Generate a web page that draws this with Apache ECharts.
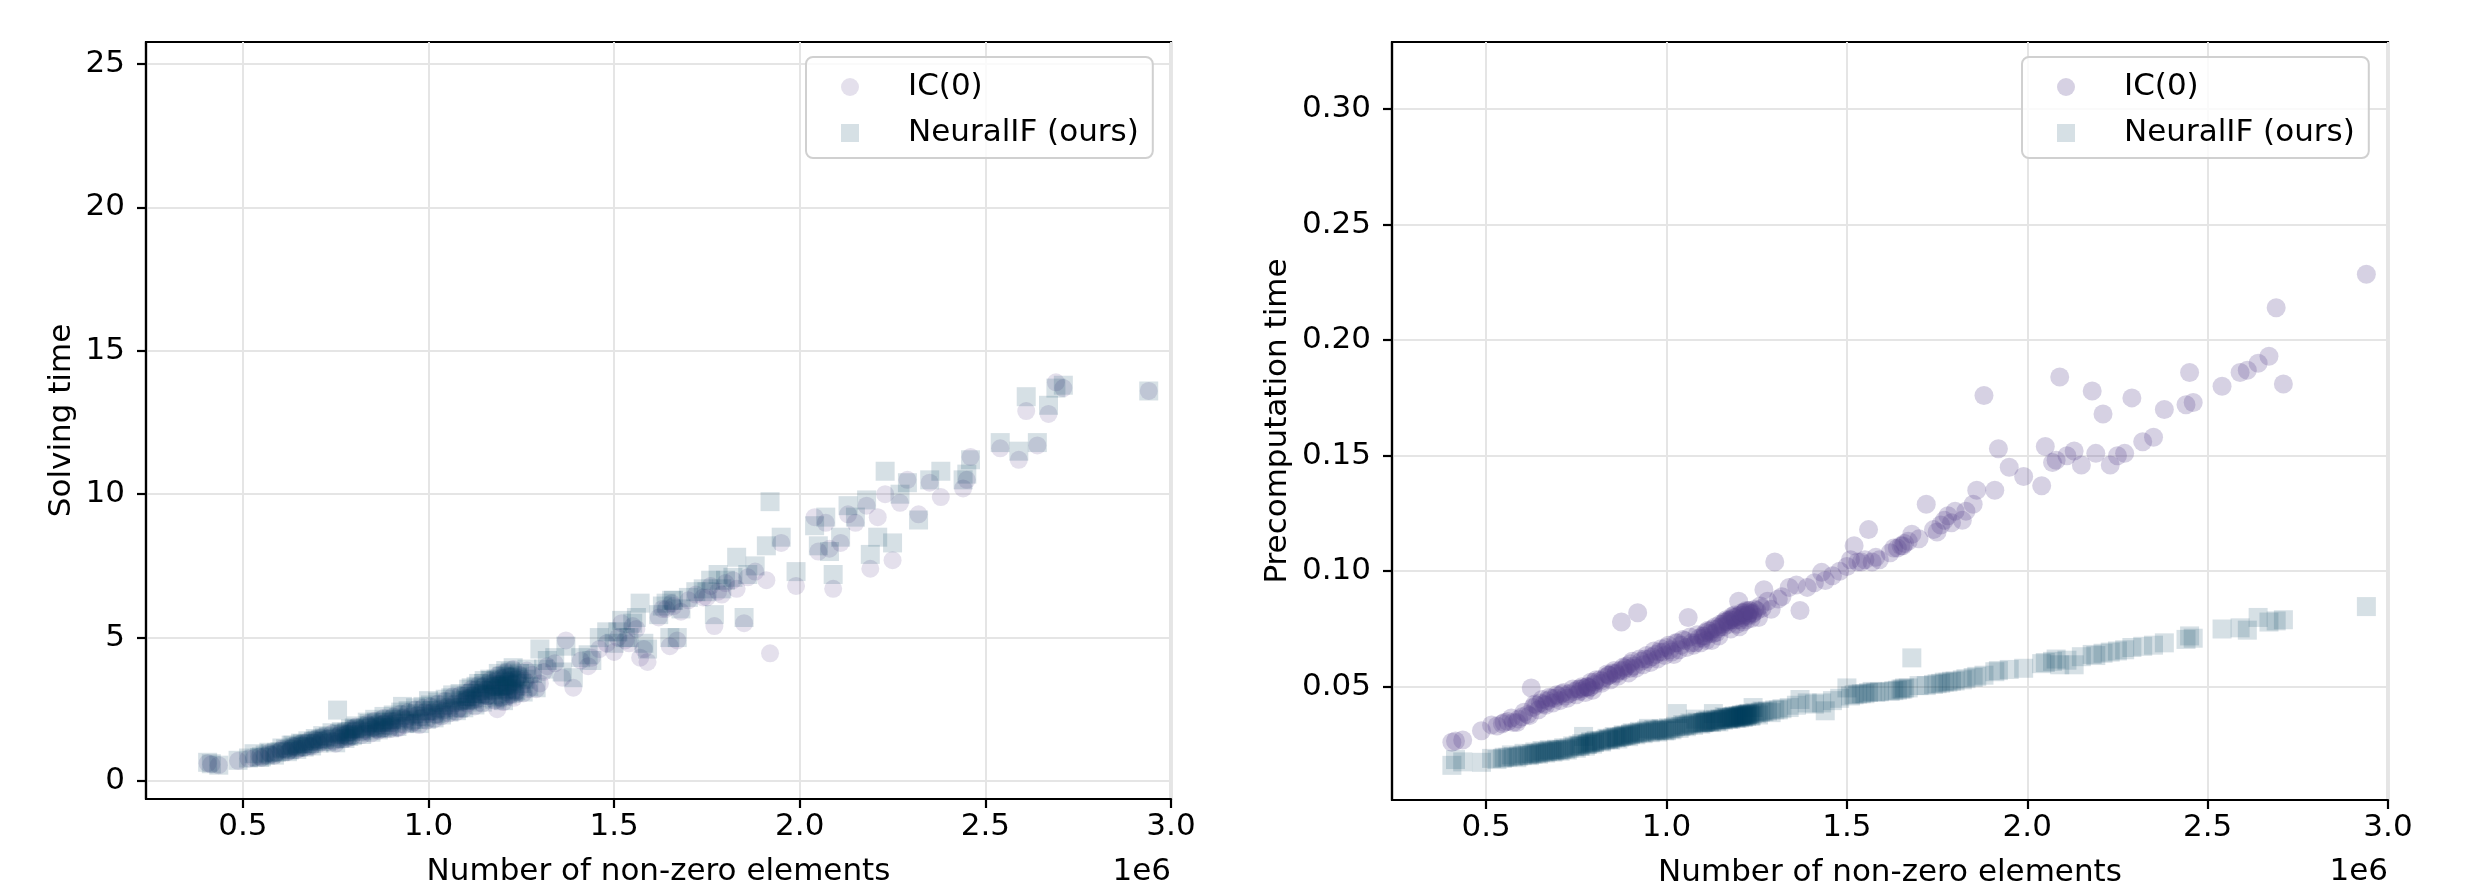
<!DOCTYPE html>
<html>
<head>
<meta charset="utf-8">
<title>Solving and precomputation time</title>
<script src="https://cdn.jsdelivr.net/npm/echarts@6/dist/echarts.min.js"></script>
<style>
  html, body { margin: 0; padding: 0; background: #fff; }
  #chart { width: 2480px; height: 891px; }
</style>
</head>
<body>
<div id="chart"></div>
<script>
// number of non-zero elements, in units of 1e6 (shared by every series)
const nnz = [
  0.405, 0.415, 0.435, 0.487,
  0.515, 0.53, 0.545, 0.56, 0.575, 0.59, 0.60,
  0.615, 0.625, 0.63, 0.64, 0.65, 0.66, 0.67, 0.68, 0.69, 0.70,
  0.71, 0.72, 0.73, 0.745, 0.755, 0.76, 0.77, 0.78, 0.785, 0.79, 0.80,
  0.815, 0.83, 0.84, 0.85, 0.86, 0.87, 0.875, 0.885, 0.89, 0.90,
  0.91, 0.92, 0.93, 0.94, 0.95, 0.96, 0.97, 0.98, 0.99, 1.00,
  1.01, 1.02, 1.03, 1.04, 1.05, 1.06, 1.07, 1.08, 1.09, 1.10,
  1.105, 1.11, 1.12, 1.13, 1.14, 1.15, 1.155, 1.16, 1.17, 1.175, 1.18, 1.185, 1.19, 1.20,
  1.205, 1.21, 1.215, 1.22, 1.225, 1.23, 1.24, 1.25, 1.26, 1.27, 1.28, 1.30,
  1.31, 1.32, 1.34, 1.36, 1.37, 1.39,
  1.41, 1.43, 1.44, 1.46, 1.48,
  1.50, 1.51, 1.52, 1.54, 1.56, 1.57, 1.59,
  1.62, 1.64, 1.65, 1.66, 1.68, 1.70,
  1.72, 1.74, 1.76, 1.77, 1.78, 1.80,
  1.82, 1.83, 1.85, 1.86, 1.88,
  1.91, 1.92, 1.95, 1.99,
  2.04, 2.05, 2.07, 2.08, 2.09,
  2.11, 2.13, 2.15, 2.18, 2.19,
  2.21, 2.23, 2.25, 2.27, 2.29,
  2.32, 2.35, 2.38,
  2.44, 2.45, 2.46,
  2.54, 2.59, 2.61, 2.64, 2.67, 2.69,
  2.71, 2.94,
  // denser part of the cloud
  0.55, 0.57, 0.585, 0.605, 0.62, 0.635, 0.645, 0.655, 0.665, 0.675, 0.685, 0.695,
  0.705, 0.715, 0.725, 0.74, 0.75, 0.765, 0.775, 0.79, 0.795,
  0.805, 0.82, 0.835, 0.845, 0.855, 0.865, 0.88, 0.895,
  0.905, 0.915, 0.925, 0.935, 0.945, 0.955, 0.965, 0.975, 0.985, 0.995,
  1.005, 1.015, 1.025, 1.035, 1.045, 1.055, 1.065, 1.075, 1.085, 1.095,
  1.115, 1.125, 1.135, 1.145, 1.165, 1.178, 1.188, 1.195, 1.198, 1.202,
  1.208, 1.212, 1.218, 1.222, 1.228, 1.235, 1.245, 1.255, 1.265, 1.29,
  1.53, 1.55, 1.58, 1.63, 1.655, 1.67, 1.75, 1.79,
  1.102, 1.108, 1.118, 1.128, 1.138, 1.148, 1.158, 1.168, 1.172, 1.182, 1.192, 1.206,
  1.214, 1.224, 1.232, 1.238, 0.76, 0.78, 0.80, 0.82, 0.84, 0.86, 0.88, 0.90
];

// solving time
const solveIC = [
  0.62, 0.58, 0.55, 0.70,
  0.78, 0.80, 0.85, 0.88, 0.92, 0.98, 1.05,
  1.10, 1.05, 1.15, 1.20, 1.12, 1.25, 1.30, 1.22, 1.35, 1.40,
  1.42, 1.45, 1.50, 1.38, 1.55, 1.45, 1.60, 1.65, 1.50, 1.70, 1.75,
  1.80, 1.75, 1.90, 1.85, 2.00, 1.95, 1.80, 2.05, 1.90, 2.00,
  2.10, 1.85, 2.20, 2.15, 2.25, 2.05, 2.30, 2.20, 2.40, 2.35,
  2.40, 2.30, 2.50, 2.45, 2.60, 2.55, 2.70, 2.50, 2.75, 2.80,
  2.70, 2.90, 3.00, 2.85, 3.10, 3.00, 3.20, 2.95, 3.30, 3.10, 3.25, 2.50, 3.40, 3.20,
  3.30, 3.10, 3.50, 3.20, 3.40, 2.90, 3.60, 3.30, 3.50, 3.20, 3.70, 3.40,
  3.80, 4.00, 4.10, 3.60, 4.90, 3.25,
  4.20, 4.00, 4.30, 4.60, 4.80,
  4.50, 5.00, 5.50, 4.80, 5.30, 4.30, 4.15,
  5.70, 6.00, 4.70, 6.10, 5.90, 6.30,
  6.50, 6.40, 6.80, 5.40, 6.60, 6.90,
  7.00, 6.70, 5.50, 7.10, 7.30,
  7.00, 4.45, 8.30, 6.80,
  9.20, 8.00, 9.00, 8.10, 6.70,
  8.30, 9.30, 9.00, 9.60, 7.40,
  9.20, 10.0, 7.70, 9.70, 10.5,
  9.30, 10.4, 9.90,
  10.2, 10.5, 11.3,
  11.6, 11.2, 12.9, 11.7, 12.8, 13.9,
  13.7, 13.6,
  0.80, 0.98, 0.88, 1.12, 1.00, 1.22, 1.08, 1.30, 1.15, 1.38, 1.20, 1.45,
  1.30, 1.55, 1.35, 1.65, 1.30, 1.70, 1.45, 1.80, 1.55,
  1.90, 1.60, 2.00, 1.65, 2.10, 1.75, 2.20, 1.80,
  2.25, 1.85, 2.35, 1.95, 2.40, 2.00, 2.50, 1.95, 2.55, 2.10,
  2.60, 2.15, 2.70, 2.25, 2.80, 2.35, 2.95, 2.40, 3.00, 2.50,
  3.20, 2.60, 3.35, 2.70, 3.50, 2.80, 3.70, 2.90, 3.60, 2.75,
  3.80, 2.95, 3.65, 3.00, 3.90, 3.10, 3.70, 3.05, 3.85, 3.20,
  4.90, 5.40, 4.60, 6.00, 6.20, 4.90, 6.40, 6.50,
  2.90, 3.10, 2.80, 3.20, 3.00, 3.30, 2.95, 3.40, 3.15, 3.50, 3.25, 3.60,
  3.30, 3.45, 3.15, 3.55, 1.60, 1.55, 1.80, 1.70, 1.95, 1.80, 2.00, 2.10
];
const solveNIF = [
  0.65, 0.60, 0.55, 0.72,
  0.80, 0.95, 0.82, 0.90, 0.95, 1.00, 1.02,
  1.12, 1.08, 1.25, 1.18, 1.20, 1.30, 1.28, 1.30, 1.38, 1.42,
  1.45, 1.50, 1.55, 1.45, 2.47, 1.50, 1.62, 1.70, 1.55, 1.72, 1.80,
  1.82, 1.85, 1.92, 1.90, 2.05, 1.95, 1.85, 2.10, 1.95, 2.05,
  2.15, 2.20, 2.60, 2.10, 2.30, 2.15, 2.35, 2.25, 2.45, 2.80,
  2.45, 2.35, 2.55, 2.50, 2.65, 2.90, 2.75, 2.55, 2.80, 2.85,
  2.80, 2.95, 3.05, 2.90, 3.15, 3.50, 3.25, 3.00, 3.35, 3.15, 3.30, 2.90, 3.45, 3.30,
  3.35, 3.20, 3.60, 3.80, 3.45, 3.10, 3.65, 3.40, 3.55, 3.30, 3.75, 4.60,
  3.90, 4.20, 4.30, 3.80, 4.70, 3.60,
  4.30, 4.40, 4.20, 5.00, 5.20,
  4.80, 5.20, 5.60, 5.00, 5.70, 6.20, 4.60,
  5.80, 6.20, 5.00, 6.30, 6.00, 6.40,
  6.60, 6.70, 7.00, 5.80, 7.20, 7.00,
  7.10, 7.80, 5.70, 7.20, 7.50,
  8.20, 9.74, 8.50, 7.30,
  8.90, 8.20, 9.20, 8.00, 7.20,
  8.50, 9.60, 9.20, 9.80, 7.90,
  8.50, 10.8, 8.30, 10.0, 10.4,
  9.10, 10.5, 10.8,
  10.5, 10.7, 11.2,
  11.8, 11.5, 13.4, 11.8, 13.1, 13.7,
  13.8, 13.6,
  0.84, 1.00, 0.90, 1.15, 1.02, 1.25, 1.10, 1.32, 1.18, 1.40, 1.22, 1.48,
  1.32, 1.58, 1.38, 1.68, 1.33, 1.72, 1.48, 1.82, 1.58,
  1.92, 1.62, 2.05, 1.70, 2.15, 1.78, 2.25, 1.85,
  2.30, 1.90, 2.40, 2.00, 2.45, 2.05, 2.55, 2.00, 2.60, 2.15,
  2.65, 2.20, 2.75, 2.30, 2.85, 2.40, 3.00, 2.45, 3.05, 2.55,
  3.25, 2.65, 3.40, 2.75, 3.55, 2.85, 3.75, 2.95, 3.65, 2.80,
  3.85, 3.00, 3.70, 3.05, 3.95, 3.15, 3.75, 3.10, 3.90, 3.25,
  5.00, 5.50, 4.80, 6.10, 6.30, 5.00, 6.60, 6.70,
  2.95, 3.20, 2.85, 3.30, 3.05, 3.40, 3.00, 3.50, 3.20, 3.55, 3.30, 3.65,
  3.35, 3.50, 3.20, 3.60, 1.65, 1.60, 1.85, 1.75, 2.00, 1.85, 2.05, 2.15
];

// precomputation time
const precIC = [
  0.026, 0.0265, 0.027, 0.031,
  0.0335, 0.033, 0.034, 0.035, 0.0345, 0.036, 0.037,
  0.038, 0.0495, 0.041, 0.042, 0.043, 0.0425, 0.044, 0.045, 0.045, 0.046,
  0.047, 0.046, 0.047, 0.048, 0.049, 0.048, 0.0495, 0.050, 0.0495, 0.050, 0.051,
  0.053, 0.054, 0.055, 0.056, 0.056, 0.057, 0.078, 0.058, 0.059, 0.058,
  0.059, 0.082, 0.061, 0.062, 0.062, 0.063, 0.064, 0.065, 0.065, 0.067,
  0.066, 0.064, 0.069, 0.068, 0.070, 0.080, 0.069, 0.069, 0.071, 0.072,
  0.072, 0.070, 0.073, 0.073, 0.075, 0.076, 0.077, 0.078, 0.078, 0.079, 0.079, 0.080, 0.080, 0.087,
  0.079, 0.080, 0.081, 0.083, 0.081, 0.082, 0.082, 0.083, 0.085, 0.092, 0.087, 0.104,
  0.088, 0.089, 0.093, 0.094, 0.083, 0.093,
  0.095, 0.0995, 0.096, 0.098, 0.100,
  0.102, 0.105, 0.111, 0.104, 0.118, 0.104, 0.105,
  0.108, 0.110, 0.111, 0.112, 0.116, 0.114,
  0.129, 0.118, 0.120, 0.122, 0.124, 0.126,
  0.122, 0.126, 0.129, 0.135, 0.176,
  0.135, 0.153, 0.145, 0.141,
  0.137, 0.154, 0.147, 0.148, 0.184,
  0.150, 0.152, 0.146, 0.178, 0.151,
  0.168, 0.146, 0.150, 0.151, 0.175,
  0.156, 0.158, 0.170,
  0.172, 0.186, 0.173,
  0.180, 0.186, 0.187, 0.190, 0.193, 0.214,
  0.181, 0.2285,
  0.0345, 0.0365, 0.0345, 0.039, 0.0375, 0.0425, 0.040, 0.0445, 0.042, 0.0455, 0.043, 0.0465,
  0.044, 0.0475, 0.045, 0.049, 0.0465, 0.050, 0.0475, 0.052, 0.0485,
  0.053, 0.0515, 0.0555, 0.053, 0.057, 0.0545, 0.0585, 0.056,
  0.061, 0.058, 0.062, 0.0595, 0.0635, 0.0605, 0.0655, 0.062, 0.0665, 0.0635,
  0.068, 0.065, 0.069, 0.066, 0.0705, 0.067, 0.0715, 0.068, 0.0725, 0.069,
  0.0745, 0.070, 0.076, 0.072, 0.079, 0.075, 0.081, 0.077, 0.0805, 0.076,
  0.082, 0.078, 0.0825, 0.079, 0.083, 0.0795, 0.0835, 0.080, 0.084, 0.0835,
  0.104, 0.105, 0.106, 0.110, 0.111, 0.113, 0.117, 0.121,
  0.071, 0.0735, 0.074, 0.075, 0.0735, 0.077, 0.076, 0.0785, 0.077, 0.0805, 0.079, 0.081,
  0.082, 0.0805, 0.083, 0.0815, 0.049, 0.050, 0.052, 0.0525, 0.055, 0.0555, 0.057, 0.060
];
const precNIF = [
  0.016, 0.0185, 0.0175, 0.0173,
  0.019, 0.0185, 0.019, 0.0195, 0.0198, 0.020, 0.0202,
  0.0205, 0.021, 0.0208, 0.0212, 0.0215, 0.0218, 0.022, 0.0222, 0.0223, 0.0226,
  0.0228, 0.023, 0.0235, 0.024, 0.0248, 0.0245, 0.0285, 0.025, 0.0255, 0.0258, 0.026,
  0.0265, 0.027, 0.0272, 0.0278, 0.028, 0.0282, 0.0285, 0.0288, 0.029, 0.0293,
  0.0297, 0.030, 0.0302, 0.0305, 0.032, 0.0308, 0.031, 0.0312, 0.0314, 0.031,
  0.0318, 0.0322, 0.0384, 0.0328, 0.0332, 0.0335, 0.034, 0.036, 0.0342, 0.0345,
  0.0345, 0.0348, 0.035, 0.0384, 0.0355, 0.0358, 0.036, 0.037, 0.0362, 0.0365, 0.0367, 0.037, 0.0368, 0.0372,
  0.0372, 0.0375, 0.0378, 0.0376, 0.038, 0.0382, 0.041, 0.0385, 0.039, 0.0392, 0.0395, 0.040,
  0.040, 0.0405, 0.041, 0.042, 0.0445, 0.043,
  0.0425, 0.043, 0.0396, 0.044, 0.045,
  0.0495, 0.046, 0.0465, 0.047, 0.0475, 0.048, 0.0478,
  0.048, 0.0485, 0.049, 0.0495, 0.0625, 0.0505,
  0.0505, 0.051, 0.0515, 0.052, 0.052, 0.0525,
  0.053, 0.0535, 0.054, 0.0545, 0.055,
  0.0565, 0.057, 0.0575, 0.058,
  0.060, 0.0605, 0.061, 0.062, 0.0595,
  0.0615, 0.0595, 0.063, 0.064, 0.0635,
  0.0645, 0.065, 0.0655, 0.066, 0.067,
  0.0675, 0.068, 0.069,
  0.0705, 0.072, 0.071,
  0.075, 0.0755, 0.0745, 0.080, 0.078, 0.0785,
  0.079, 0.0847,
  0.0195, 0.0205, 0.0193, 0.0212, 0.0202, 0.0218, 0.0208, 0.0224, 0.0213, 0.0228, 0.0217, 0.0230,
  0.0221, 0.0236, 0.0226, 0.0244, 0.0234, 0.0254, 0.0243, 0.0262, 0.0252,
  0.0268, 0.0261, 0.0277, 0.0269, 0.0285, 0.0274, 0.0292, 0.0284,
  0.0301, 0.0292, 0.0307, 0.0297, 0.0312, 0.0301, 0.0315, 0.0304, 0.0319, 0.0309,
  0.0323, 0.0314, 0.0329, 0.0320, 0.0336, 0.0327, 0.0343, 0.0333, 0.0347, 0.0338,
  0.0355, 0.0345, 0.0359, 0.0348, 0.0367, 0.0359, 0.0374, 0.0364, 0.0375, 0.0365,
  0.0379, 0.0368, 0.0382, 0.0371, 0.0385, 0.0374, 0.0389, 0.0378, 0.0395, 0.0388,
  0.0468, 0.0470, 0.0476, 0.0483, 0.0490, 0.0495, 0.0513, 0.0524,
  0.0344, 0.0351, 0.0347, 0.0356, 0.0350, 0.0361, 0.0355, 0.0366, 0.0359, 0.0371, 0.0364, 0.0376,
  0.0369, 0.0381, 0.0373, 0.0383, 0.0242, 0.0252, 0.0260, 0.0266, 0.0274, 0.0281, 0.0287, 0.0296
];

const xTicks = [0.5, 1.0, 1.5, 2.0, 2.5, 3.0];
const solveTicks = [0, 5, 10, 15, 20, 25];
const precTicks = [0.05, 0.10, 0.15, 0.20, 0.25, 0.30];

const FONT = 'DejaVu Sans';
const FS = 31;
const IC_LEFT = 'rgba(88,65,138,0.2)';
const IC_RIGHT = 'rgba(88,65,138,0.3)';
const NIF = 'rgba(0,63,92,0.2)';

const pairs = ys => nnz.map((x, i) => [x, ys[i]]);

function xAxis(gridIndex) {
  return {
    type: 'value', gridIndex,
    min: 0.239, max: 3.0,
    name: 'Number of non-zero elements',
    nameLocation: 'middle', nameGap: 57,
    nameTextStyle: { fontFamily: FONT, fontSize: FS, color: '#000' },
    axisLine: { show: true, onZero: false, lineStyle: { color: '#000', width: 2.2 } },
    axisTick: { show: true, length: 9, lineStyle: { color: '#000', width: 2.2 }, customValues: xTicks },
    axisLabel: { fontFamily: FONT, fontSize: FS, color: '#000', margin: 12,
      customValues: xTicks, formatter: v => v.toFixed(1) },
    splitLine: { show: true, lineStyle: { color: '#e5e5e5', width: 2 } }
  };
}

function yAxis(gridIndex, name, min, max, ticks, digits, gap) {
  return {
    type: 'value', gridIndex, min, max,
    name, nameLocation: 'middle', nameGap: gap,
    nameTextStyle: { fontFamily: FONT, fontSize: FS, color: '#000' },
    axisLine: { show: true, onZero: false, lineStyle: { color: '#000', width: 2.2 } },
    axisTick: { show: true, length: 9, lineStyle: { color: '#000', width: 2.2 }, customValues: ticks },
    axisLabel: { fontFamily: FONT, fontSize: FS, color: '#000', margin: 21, padding: [5, 0, 0, 0],
      customValues: ticks, formatter: v => v.toFixed(digits) },
    splitLine: { show: true, lineStyle: { color: '#e5e5e5', width: 2 } }
  };
}

function legend(left, icColor) {
  return {
    orient: 'vertical', left, top: 57,
    padding: [12, 14, 7, 35],
    itemGap: 10, itemWidth: 18, itemHeight: 18,
    selectedMode: false,
    borderColor: '#d0d0d0', borderWidth: 2, borderRadius: 7,
    backgroundColor: 'rgba(255,255,255,0.8)',
    textStyle: { fontFamily: FONT, fontSize: FS, color: '#000', lineHeight: 36, padding: [0, 0, 0, 44] },
    data: [
      { name: 'IC(0)', icon: 'circle', itemStyle: { color: icColor } },
      { name: 'NeuralIF (ours)', icon: 'rect', itemStyle: { color: NIF } }
    ]
  };
}

function scatter(name, idx, data, symbol, size, color) {
  return {
    type: 'scatter', name, xAxisIndex: idx, yAxisIndex: idx,
    data, symbol, symbolSize: size,
    itemStyle: { color },
    emphasis: { disabled: true }
  };
}

const chart = echarts.init(document.getElementById('chart'), null, { renderer: 'canvas' });
chart.setOption({
  animation: false,
  backgroundColor: '#fff',
  grid: [
    { left: 146, top: 42, width: 1025, height: 757, outerBoundsMode: 'none', containLabel: false,
      show: true, borderColor: '#000', borderWidth: 2.2 },
    { left: 1392, top: 42, width: 996, height: 758, outerBoundsMode: 'none', containLabel: false,
      show: true, borderColor: '#000', borderWidth: 2.2 }
  ],
  xAxis: [xAxis(0), xAxis(1)],
  yAxis: [
    yAxis(0, 'Solving time', -0.63, 25.77, solveTicks, 0, 69),
    yAxis(1, 'Precomputation time', 0.001, 0.329, precTicks, 2, 99)
  ],
  legend: [legend(806, IC_LEFT), legend(2022, IC_RIGHT)],
  series: [
    scatter('IC(0)', 0, pairs(solveIC), 'circle', 18, IC_LEFT),
    scatter('NeuralIF (ours)', 0, pairs(solveNIF), 'rect', 19, NIF),
    scatter('IC(0)', 1, pairs(precIC), 'circle', 19, IC_RIGHT),
    scatter('NeuralIF (ours)', 1, pairs(precNIF), 'rect', 19, NIF)
  ],
  graphic: [
    { type: 'text', x: 1171, y: 872, style: { text: '1e6', font: FS + 'px "' + FONT + '"', fill: '#000', align: 'right', verticalAlign: 'middle' } },
    { type: 'text', x: 2388, y: 872, style: { text: '1e6', font: FS + 'px "' + FONT + '"', fill: '#000', align: 'right', verticalAlign: 'middle' } }
  ]
});
</script>
</body>
</html>
